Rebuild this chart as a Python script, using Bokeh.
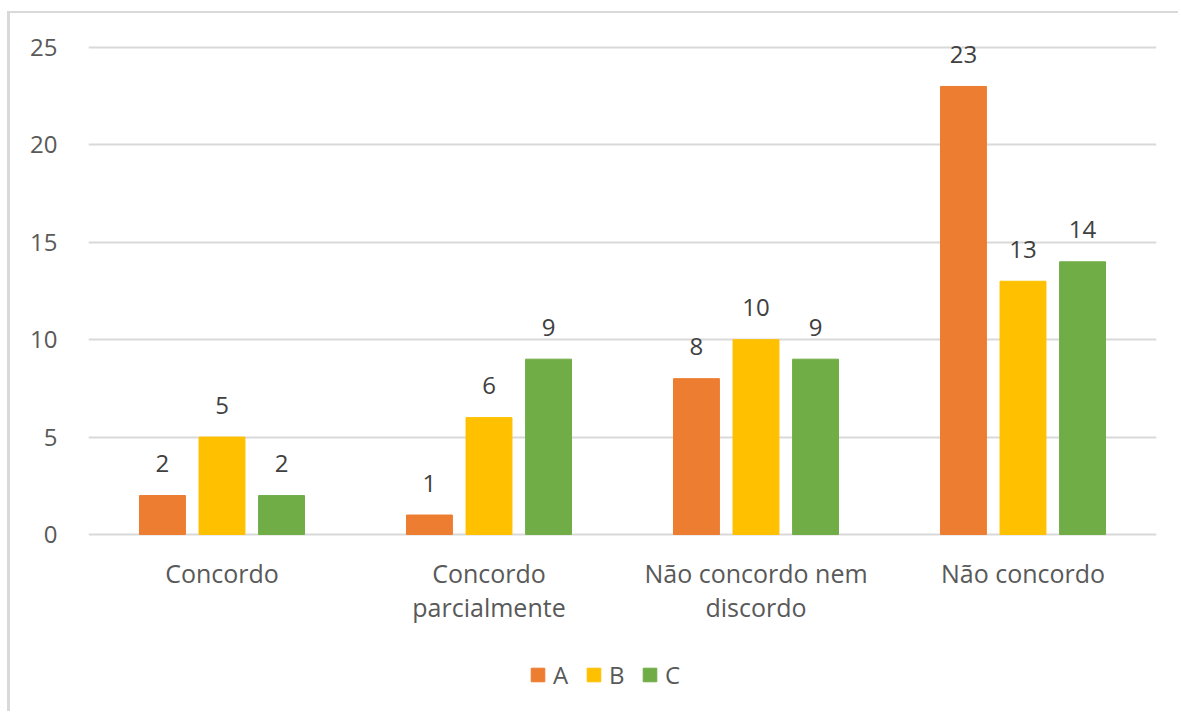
from bokeh.plotting import figure
from bokeh.models import ColumnDataSource, FactorRange, Legend, LegendItem, FixedTicker
from bokeh.transform import dodge
from bokeh.core.properties import value
from bokeh.embed import file_html
from bokeh.resources import INLINE

category_lines = [["Concordo"], ["Concordo", "parcialmente"], ["Não concordo nem", "discordo"], ["Não concordo"]]
categories = [" ".join(c) for c in category_lines]
series_names = ["A", "B", "C"]
values_a = [2, 1, 8, 23]
values_b = [5, 6, 10, 13]
values_c = [2, 9, 9, 14]
y_ticks = [0, 5, 10, 15, 20, 25]
colors = ["#ED7D31", "#FFC000", "#70AD47"]

FONT = "Open Sans"

source = ColumnDataSource(data=dict(
    cat=categories,
    A=values_a, B=values_b, C=values_c,
    A_txt=[str(v) for v in values_a],
    B_txt=[str(v) for v in values_b],
    C_txt=[str(v) for v in values_c],
))

# category label lines (first and second line)
line1 = [c[0] for c in category_lines]
line2 = [c[1] if len(c) > 1 else "" for c in category_lines]
lab_src = ColumnDataSource(data=dict(cat=categories, y=[0] * len(categories), l1=line1, l2=line2))

TOP_PAD = 24       # room above the 25 gridline for data labels
FRAME_H = 666 + TOP_PAD
VALUE_H = 487      # pixels from 0 to 25
ymax = y_ticks[-1]
ytop = ymax + TOP_PAD / VALUE_H * ymax
ymin = -(666 - VALUE_H) / VALUE_H * ymax

p = figure(
    x_range=FactorRange(*categories, range_padding=0),
    y_range=(ymin, ytop),
    width=1171, height=700,
    output_backend="svg", toolbar_location=None,
    min_border_left=78, min_border_right=25, min_border_top=34 - TOP_PAD, min_border_bottom=0,
)
p.styles = {"border-left": "3px solid #d9d9d9", "border-top": "2px solid #d9d9d9",
            "margin-left": "7px", "margin-top": "11px"}

offsets = [-0.223, 0.0, 0.223]
renderers = []
for name, col, off in zip(series_names, colors, offsets):
    r = p.vbar(x=dodge("cat", off, range=p.x_range), top=name, width=0.172,
               source=source, fill_color=col, line_color=col)
    renderers.append(r)
    p.text(x=dodge("cat", off, range=p.x_range), y=name, text=name + "_txt", source=source,
           text_align="center", text_baseline="middle", y_offset=-32,
           text_font=value(FONT), text_font_size="24px", text_color="#404040")

# category labels below the zero line
for col, off in (("l1", 38), ("l2", 72)):
    p.text(x="cat", y="y", text=col, source=lab_src, text_align="center", text_baseline="middle",
           y_offset=off, text_font=value(FONT), text_font_size="25px", text_color="#595959")

p.outline_line_color = None
p.background_fill_color = "white"
p.border_fill_color = "white"

p.xaxis.visible = False
p.xgrid.grid_line_color = None
p.ygrid.ticker = FixedTicker(ticks=y_ticks)
p.ygrid.grid_line_color = "#d9d9d9"
p.ygrid.grid_line_width = 2
p.yaxis.ticker = FixedTicker(ticks=y_ticks)
p.yaxis.axis_line_color = None
p.yaxis.major_tick_line_color = None
p.yaxis.minor_tick_line_color = None
p.yaxis.major_label_standoff = 25
p.yaxis.major_label_text_font = FONT
p.yaxis.major_label_text_font_size = "24px"
p.yaxis.major_label_text_color = "#595959"

legend = Legend(
    items=[LegendItem(label=n, renderers=[r]) for n, r in zip(series_names, renderers)],
    orientation="horizontal", location=(441, 22),
    glyph_width=17, glyph_height=17, label_standoff=7, spacing=12,
    label_text_font=FONT, label_text_font_size="24px", label_text_color="#595959",
    border_line_color=None, background_fill_alpha=0, padding=0, margin=0,
)
p.add_layout(legend, "center")

open("out.html", "w").write(file_html(p, INLINE))
